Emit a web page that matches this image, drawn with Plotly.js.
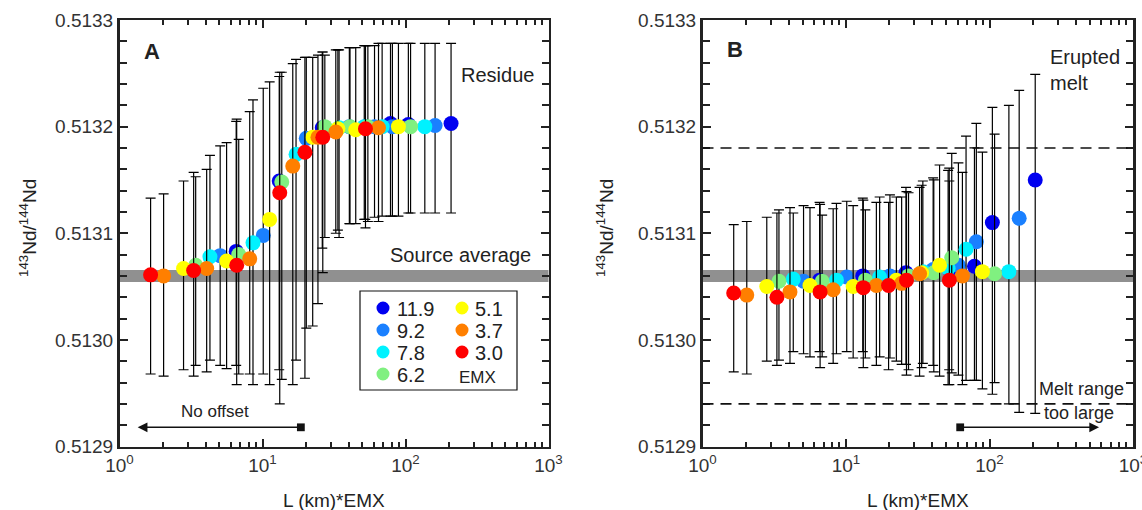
<!DOCTYPE html>
<html>
<head>
<meta charset="utf-8">
<script src="https://cdn.plot.ly/plotly-3.0.1.min.js"></script>
<style>html,body{margin:0;padding:0;background:#fff}#chart{width:1142px;height:510px}</style>
</head>
<body>
<div id="chart"></div>
<script>
// ---- data ----
const L = [0.55, 1.1, 2.2, 4.4, 6.6, 8.8, 17.5];           // km
const EMX = [11.9, 9.2, 7.8, 6.2, 5.1, 3.7, 3.0];
const colors = ['#0000f0', '#1a80ff', '#00f2ff', '#80f080', '#ffff00', '#ff7f00', '#ff0000'];
const sourceAvg = 0.51306;
const meltHi = 0.51318;
const meltLo = 0.51294;

// Panel A (residue) values, rows follow EMX order, columns follow L
const aMid = [
  [0.513083, 0.513149, 0.513199, 0.513200, 0.513203, 0.513202, 0.513203],
  [0.513079, 0.513098, 0.513189, 0.513200, 0.513200, 0.513200, 0.513201],
  [0.513078, 0.513091, 0.513174, 0.513199, 0.513200, 0.513200, 0.513200],
  [0.513070, 0.513080, 0.513148, 0.513200, 0.513200, 0.513200, 0.513200],
  [0.513067, 0.513074, 0.513113, 0.513190, 0.513198, 0.513197, 0.513200],
  [0.513060, 0.513067, 0.513076, 0.513163, 0.513190, 0.513195, 0.513199],
  [0.513061, 0.513065, 0.513070, 0.513138, 0.513176, 0.513190, 0.513198]
];
const aHi = [
  [0.513205, 0.513247, 0.513270, 0.513276, 0.513278, 0.513278, 0.513278],
  [0.513182, 0.513236, 0.513265, 0.513274, 0.513276, 0.513278, 0.513278],
  [0.513173, 0.513225, 0.513263, 0.513272, 0.513276, 0.513278, 0.513278],
  [0.513153, 0.513188, 0.513251, 0.513267, 0.513274, 0.513276, 0.513278],
  [0.513149, 0.513185, 0.513242, 0.513265, 0.513272, 0.513274, 0.513278],
  [0.513137, 0.513160, 0.513214, 0.513259, 0.513267, 0.513272, 0.513278],
  [0.513133, 0.513157, 0.513207, 0.513251, 0.513265, 0.513270, 0.513276]
];
const aLo = [
  [0.512976, 0.512972, 0.513086, 0.513113, 0.513116, 0.513119, 0.513119],
  [0.512976, 0.512968, 0.513011, 0.513109, 0.513115, 0.513116, 0.513119],
  [0.512981, 0.512958, 0.512981, 0.513096, 0.513113, 0.513116, 0.513119],
  [0.512976, 0.512968, 0.512963, 0.513096, 0.513109, 0.513111, 0.513119],
  [0.512972, 0.512973, 0.512958, 0.513013, 0.513103, 0.513109, 0.513116],
  [0.512966, 0.512970, 0.512968, 0.512958, 0.513034, 0.513100, 0.513111],
  [0.512968, 0.512966, 0.512958, 0.512940, 0.512964, 0.513063, 0.513105]
];

// Panel B (erupted melt) values
const bMid = [
  [0.513056, 0.513060, 0.513063, 0.513066, 0.513069, 0.513110, 0.513150],
  [0.513055, 0.513059, 0.513060, 0.513066, 0.513070, 0.513092, 0.513114],
  [0.513057, 0.513056, 0.513059, 0.513064, 0.513067, 0.513085, 0.513064],
  [0.513055, 0.513055, 0.513056, 0.513060, 0.513063, 0.513077, 0.513062],
  [0.513050, 0.513051, 0.513050, 0.513056, 0.513063, 0.513070, 0.513064],
  [0.513042, 0.513045, 0.513047, 0.513051, 0.513053, 0.513062, 0.513060],
  [0.513044, 0.513040, 0.513045, 0.513049, 0.513051, 0.513056, 0.513056]
];
const bHi = [
  [0.513129, 0.513133, 0.513143, 0.513161, 0.513180, 0.513218, 0.513249],
  [0.513126, 0.513130, 0.513136, 0.513152, 0.513166, 0.513203, 0.513234],
  [0.513119, 0.513128, 0.513134, 0.513149, 0.513159, 0.513191, 0.513220],
  [0.513122, 0.513117, 0.513122, 0.513138, 0.513150, 0.513175, 0.513193],
  [0.513115, 0.513124, 0.513126, 0.513134, 0.513145, 0.513164, 0.513176],
  [0.513111, 0.513124, 0.513123, 0.513129, 0.513134, 0.513143, 0.513157],
  [0.513108, 0.513119, 0.513127, 0.513131, 0.513129, 0.513139, 0.513149]
];
const bLo = [
  [0.512989, 0.512989, 0.512977, 0.512972, 0.512962, 0.512949, 0.512931],
  [0.512987, 0.512989, 0.512983, 0.512976, 0.512967, 0.512962, 0.512932],
  [0.512989, 0.512987, 0.512984, 0.512978, 0.512958, 0.512962, 0.512940],
  [0.512981, 0.512984, 0.512983, 0.512972, 0.512970, 0.512969, 0.512960],
  [0.512980, 0.512984, 0.512983, 0.512980, 0.512974, 0.512966, 0.512954],
  [0.512968, 0.512978, 0.512978, 0.512976, 0.512977, 0.512966, 0.512958],
  [0.512970, 0.512976, 0.512974, 0.512974, 0.512972, 0.512967, 0.512958]
];

const xTickVals = [1, 10, 100, 1000];
const xTickText = ['10<sup>0</sup>', '10<sup>1</sup>', '10<sup>2</sup>', '10<sup>3</sup>'];
const noOffsetArrow = {from: 19, to: 1.34, y: 0.512918};
const meltArrow = {from: 61, to: 580, y: 0.512918};

// ---- figure ----
const W = 1142, H = 510;
const FONT = 'Liberation Sans, Arial, Helvetica, sans-serif';
const PX = v => v / W;
const PY = v => 1 - v / H;

const traces = [];
function addPanel(mid, hi, lo, xa, ya) {
  EMX.forEach((e, i) => {
    const xs = L.map(l => l * e);
    traces.push({
      type: 'scatter', mode: 'markers', xaxis: xa, yaxis: ya,
      x: xs, y: mid[i],
      showlegend: false, cliponaxis: false,
      marker: {size: 15, color: colors[i], line: {width: 0}},
      error_y: {
        type: 'data', symmetric: false,
        array: mid[i].map((m, j) => hi[i][j] - m),
        arrayminus: mid[i].map((m, j) => m - lo[i][j]),
        color: '#000', thickness: 1.2, width: 5
      }
    });
  });
}
addPanel(aMid, aHi, aLo, 'x', 'y');
addPanel(bMid, bHi, bLo, 'x2', 'y2');

const axCommon = {
  showline: true, linewidth: 2.5, linecolor: '#222', mirror: 'allticks',
  ticks: 'inside', tickwidth: 2, tickcolor: '#222',
  showgrid: false, zeroline: false, ticklabeloverflow: 'allow',
  tickfont: {family: FONT, size: 19, color: '#333'}
};
function xAxis(domain, anchor) {
  return Object.assign({}, axCommon, {
    type: 'log', range: [0, 3], domain: domain, anchor: anchor,
    tickmode: 'array', tickvals: xTickVals, ticktext: xTickText, ticklen: 8,
    minor: {dtick: 'D1', ticks: 'inside', ticklen: 5, tickwidth: 2, tickcolor: '#222'}
  });
}
function yAxis(anchor) {
  return Object.assign({}, axCommon, {
    range: [0.5129, 0.5133], domain: [PY(446.5), PY(20)], anchor: anchor,
    tick0: 0.5129, dtick: 0.0001, tickformat: '.4f', ticklen: 8,
    minor: {dtick: 0.00002, tick0: 0.5129, ticks: 'inside', ticklen: 7, tickwidth: 2, tickcolor: '#222'}
  });
}

const shapes = [];
['x', 'x2'].forEach((xa, k) => {
  const ya = k === 0 ? 'y' : 'y2';
  shapes.push({type: 'line', layer: 'below', xref: xa + ' domain', yref: ya, x0: 0, x1: 1,
    y0: sourceAvg, y1: sourceAvg, line: {color: '#909090', width: 12}});
});
[meltHi, meltLo].forEach(v => shapes.push({type: 'line', xref: 'x2 domain', yref: 'y2', x0: 0, x1: 1,
  y0: v, y1: v, line: {color: '#111', width: 1.6, dash: '11px,7px'}}));
// legend box
shapes.push({type: 'rect', xref: 'paper', yref: 'paper', x0: PX(360), x1: PX(517), y0: PY(390), y1: PY(291),
  line: {color: '#111', width: 1.2}, fillcolor: 'rgba(255,255,255,0)'});

const annotations = [];
function txt(text, x, y, size, opts) {
  annotations.push(Object.assign({xref: 'paper', yref: 'paper', x: PX(x), y: PY(y), text: text,
    showarrow: false, font: {family: FONT, size: size, color: '#222'}, xanchor: 'center', yanchor: 'middle'}, opts || {}));
}
// legend entries
const legRows = [308, 330, 352, 374];
EMX.forEach((e, i) => {
  const col = i < 4 ? 0 : 1;
  const row = i < 4 ? i : i - 4;
  const mx = col === 0 ? 383 : 462;
  const tx = col === 0 ? 395 : 473;
  const y = legRows[row];
  shapes.push({type: 'circle', xref: 'paper', yref: 'paper', xsizemode: 'pixel', ysizemode: 'pixel',
    xanchor: PX(mx), yanchor: PY(y), x0: -6.5, x1: 6.5, y0: -6.5, y1: 6.5,
    fillcolor: colors[i], line: {width: 0}});
  txt(e.toFixed(1), tx, y + 1, 20, {xanchor: 'left'});
});
txt('EMX', 477, 377, 17);

txt('<b>A</b>', 152, 52, 22);
txt('<b>B</b>', 735, 50, 22);
txt('Residue', 497, 75, 20);
txt('Source average', 460, 255, 20);
txt('No offset', 215, 411, 17);
txt('Erupted', 1048, 57, 20, {xanchor: 'left'});
txt('melt', 1048, 83, 20, {xanchor: 'left'});
txt('Melt range', 1081, 389, 18);
txt('too large', 1079, 413, 18);
txt('L (km)*EMX', 334, 500, 19);
txt('L (km)*EMX', 918, 500, 19);
txt('<sup>143</sup>Nd/<sup>144</sup>Nd', 28, 228, 19, {textangle: -90});
txt('<sup>143</sup>Nd/<sup>144</sup>Nd', 605, 228, 19, {textangle: -90});

function arrow(a, xa, ya) {
  annotations.push({xref: xa, yref: ya, axref: xa, ayref: ya,
    x: Math.log10(a.to), y: a.y, ax: Math.log10(a.from), ay: a.y, text: '',
    showarrow: true, arrowside: 'end+start', arrowhead: 2, startarrowhead: 7,
    arrowsize: 1.3, startarrowsize: 1.3, arrowwidth: 1.5, arrowcolor: '#111', standoff: 0, startstandoff: 0});
}
arrow(noOffsetArrow, 'x', 'y');
arrow(meltArrow, 'x2', 'y2');

const layout = {
  width: W, height: H,
  margin: {l: 0, r: 0, t: 0, b: 0, pad: 0},
  paper_bgcolor: '#fff', plot_bgcolor: '#fff',
  showlegend: false,
  font: {family: FONT},
  xaxis: xAxis([PX(119.5), PX(548.5)], 'y'),
  yaxis: yAxis('x'),
  xaxis2: xAxis([PX(702.5), PX(1133)], 'y2'),
  yaxis2: yAxis('x2'),
  shapes: shapes,
  annotations: annotations
};

Plotly.newPlot('chart', traces, layout, {displayModeBar: false, staticPlot: true});
</script>
</body>
</html>
